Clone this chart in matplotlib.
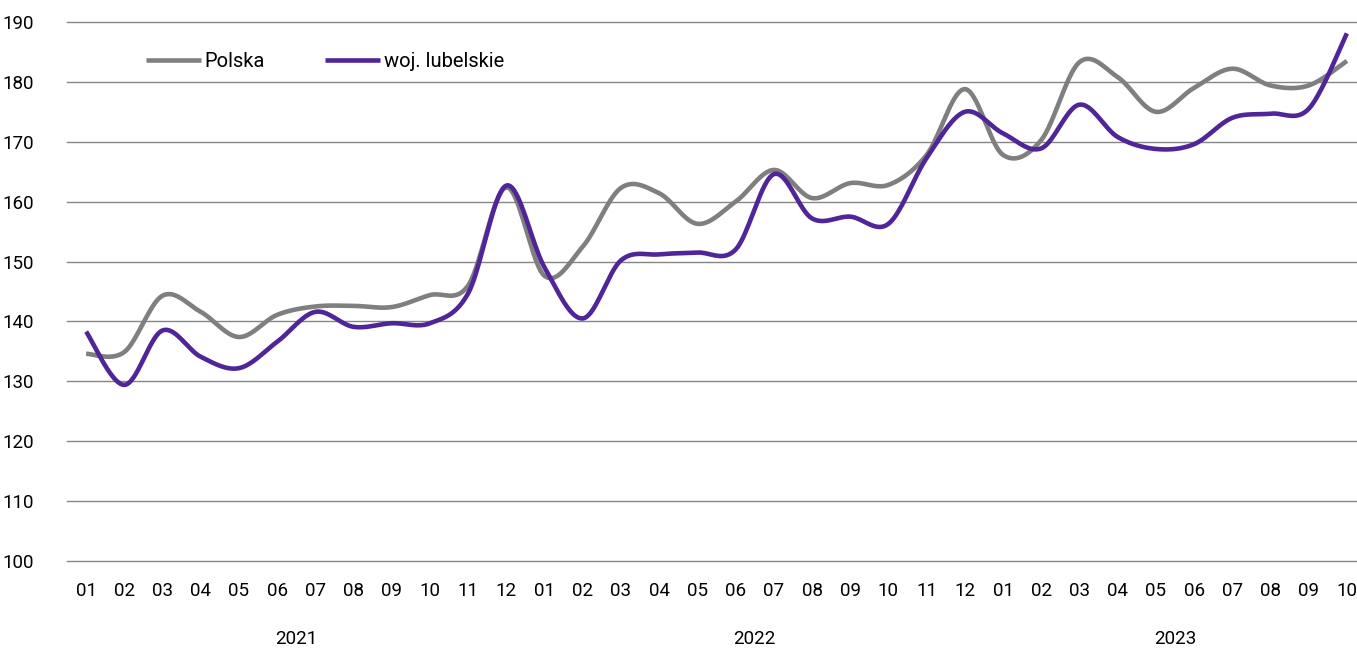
import numpy as np
import matplotlib
matplotlib.use("Agg")
import matplotlib.pyplot as plt

plt.rcParams['font.family'] = ['Roboto', 'DejaVu Sans']

# dane miesięczne 2021-01 .. 2023-10
miesiace = ["01", "02", "03", "04", "05", "06", "07", "08", "09", "10", "11", "12",
            "01", "02", "03", "04", "05", "06", "07", "08", "09", "10", "11", "12",
            "01", "02", "03", "04", "05", "06", "07", "08", "09", "10"]
lata = ["2021", "2022", "2023"]
lata_srodek = [5.5, 17.5, 28.5]

polska = [134.6, 134.9, 144.3, 141.6, 137.4, 141.1, 142.5, 142.6, 142.4, 144.4, 146.0, 162.4,
          147.6, 152.5, 162.3, 161.4, 156.3, 160.0, 165.3, 160.6, 163.1, 162.8, 167.8, 178.8,
          167.8, 170.3, 183.3, 180.8, 175.0, 179.0, 182.2, 179.4, 179.4, 183.5]
lubelskie = [138.3, 129.4, 138.5, 134.1, 132.2, 136.6, 141.6, 139.1, 139.7, 139.7, 144.7, 162.7,
             149.0, 140.5, 150.2, 151.2, 151.5, 152.0, 164.6, 157.2, 157.5, 156.3, 167.3, 175.0,
             171.4, 168.9, 176.2, 170.8, 168.8, 169.6, 174.0, 174.7, 175.5, 188.1]


def wygladz(y, n=20):
    """Krzywa Catmull-Rom (jak 'wygładzona linia' w Excelu)"""
    y = np.asarray(y, dtype=float)
    x = np.arange(len(y), dtype=float)
    px = np.concatenate([[x[0]], x, [x[-1]]])
    py = np.concatenate([[y[0]], y, [y[-1]]])
    xs, ys = [], []
    t = np.linspace(0, 1, n, endpoint=False)
    for i in range(1, len(px) - 2):
        p0 = np.array([px[i], py[i]])
        p3 = np.array([px[i + 1], py[i + 1]])
        p1 = p0 + (p3 - np.array([px[i - 1], py[i - 1]])) / 6
        p2 = p3 - (np.array([px[i + 2], py[i + 2]]) - p0) / 6
        b = ((1 - t) ** 3)[:, None] * p0 + (3 * (1 - t) ** 2 * t)[:, None] * p1 \
            + (3 * (1 - t) * t ** 2)[:, None] * p2 + (t ** 3)[:, None] * p3
        xs.append(b[:, 0])
        ys.append(b[:, 1])
    xs.append([x[-1]])
    ys.append([y[-1]])
    return np.concatenate(xs), np.concatenate(ys)


fig = plt.figure(figsize=(13.57, 6.48), dpi=100)
ax = fig.add_axes([67 / 1357, 1 - 561 / 648, 1299 / 1357, (561 - 22) / 648])

x1, y1 = wygladz(polska)
x2, y2 = wygladz(lubelskie)
ax.plot(x1, y1, color="#7f7f7f", lw=3.3, label="Polska", solid_capstyle="butt")
ax.plot(x2, y2, color="#4f2597", lw=3.3, label="woj. lubelskie", solid_capstyle="butt")

ax.set_xlim(-0.5, 33.5)
ax.set_ylim(100, 190)
ax.set_yticks(range(100, 191, 10))
ax.set_xticks(range(len(miesiace)))
ax.set_xticklabels(miesiace)
ax.yaxis.grid(True, color="#858585", lw=1)
for gl in ax.get_ygridlines():
    gl.set_clip_on(False)
ax.set_axisbelow(True)
for s in ax.spines.values():
    s.set_visible(False)
ax.tick_params(axis="both", length=0, labelsize=13.5, colors="#000000")
ax.tick_params(axis="y", pad=24)
ax.tick_params(axis="x", pad=15)

for rok, xc in zip(lata, lata_srodek):
    ax.text(xc, -0.145, rok, transform=ax.get_xaxis_transform(),
            ha="center", va="center", fontsize=13.5)

ax.legend(loc="upper left", bbox_to_anchor=(0.047, 0.978), ncol=2, frameon=False,
          fontsize=14.5, handlelength=2.7, handletextpad=0.2, columnspacing=3.0)

fig.savefig("out.png", dpi=100)
